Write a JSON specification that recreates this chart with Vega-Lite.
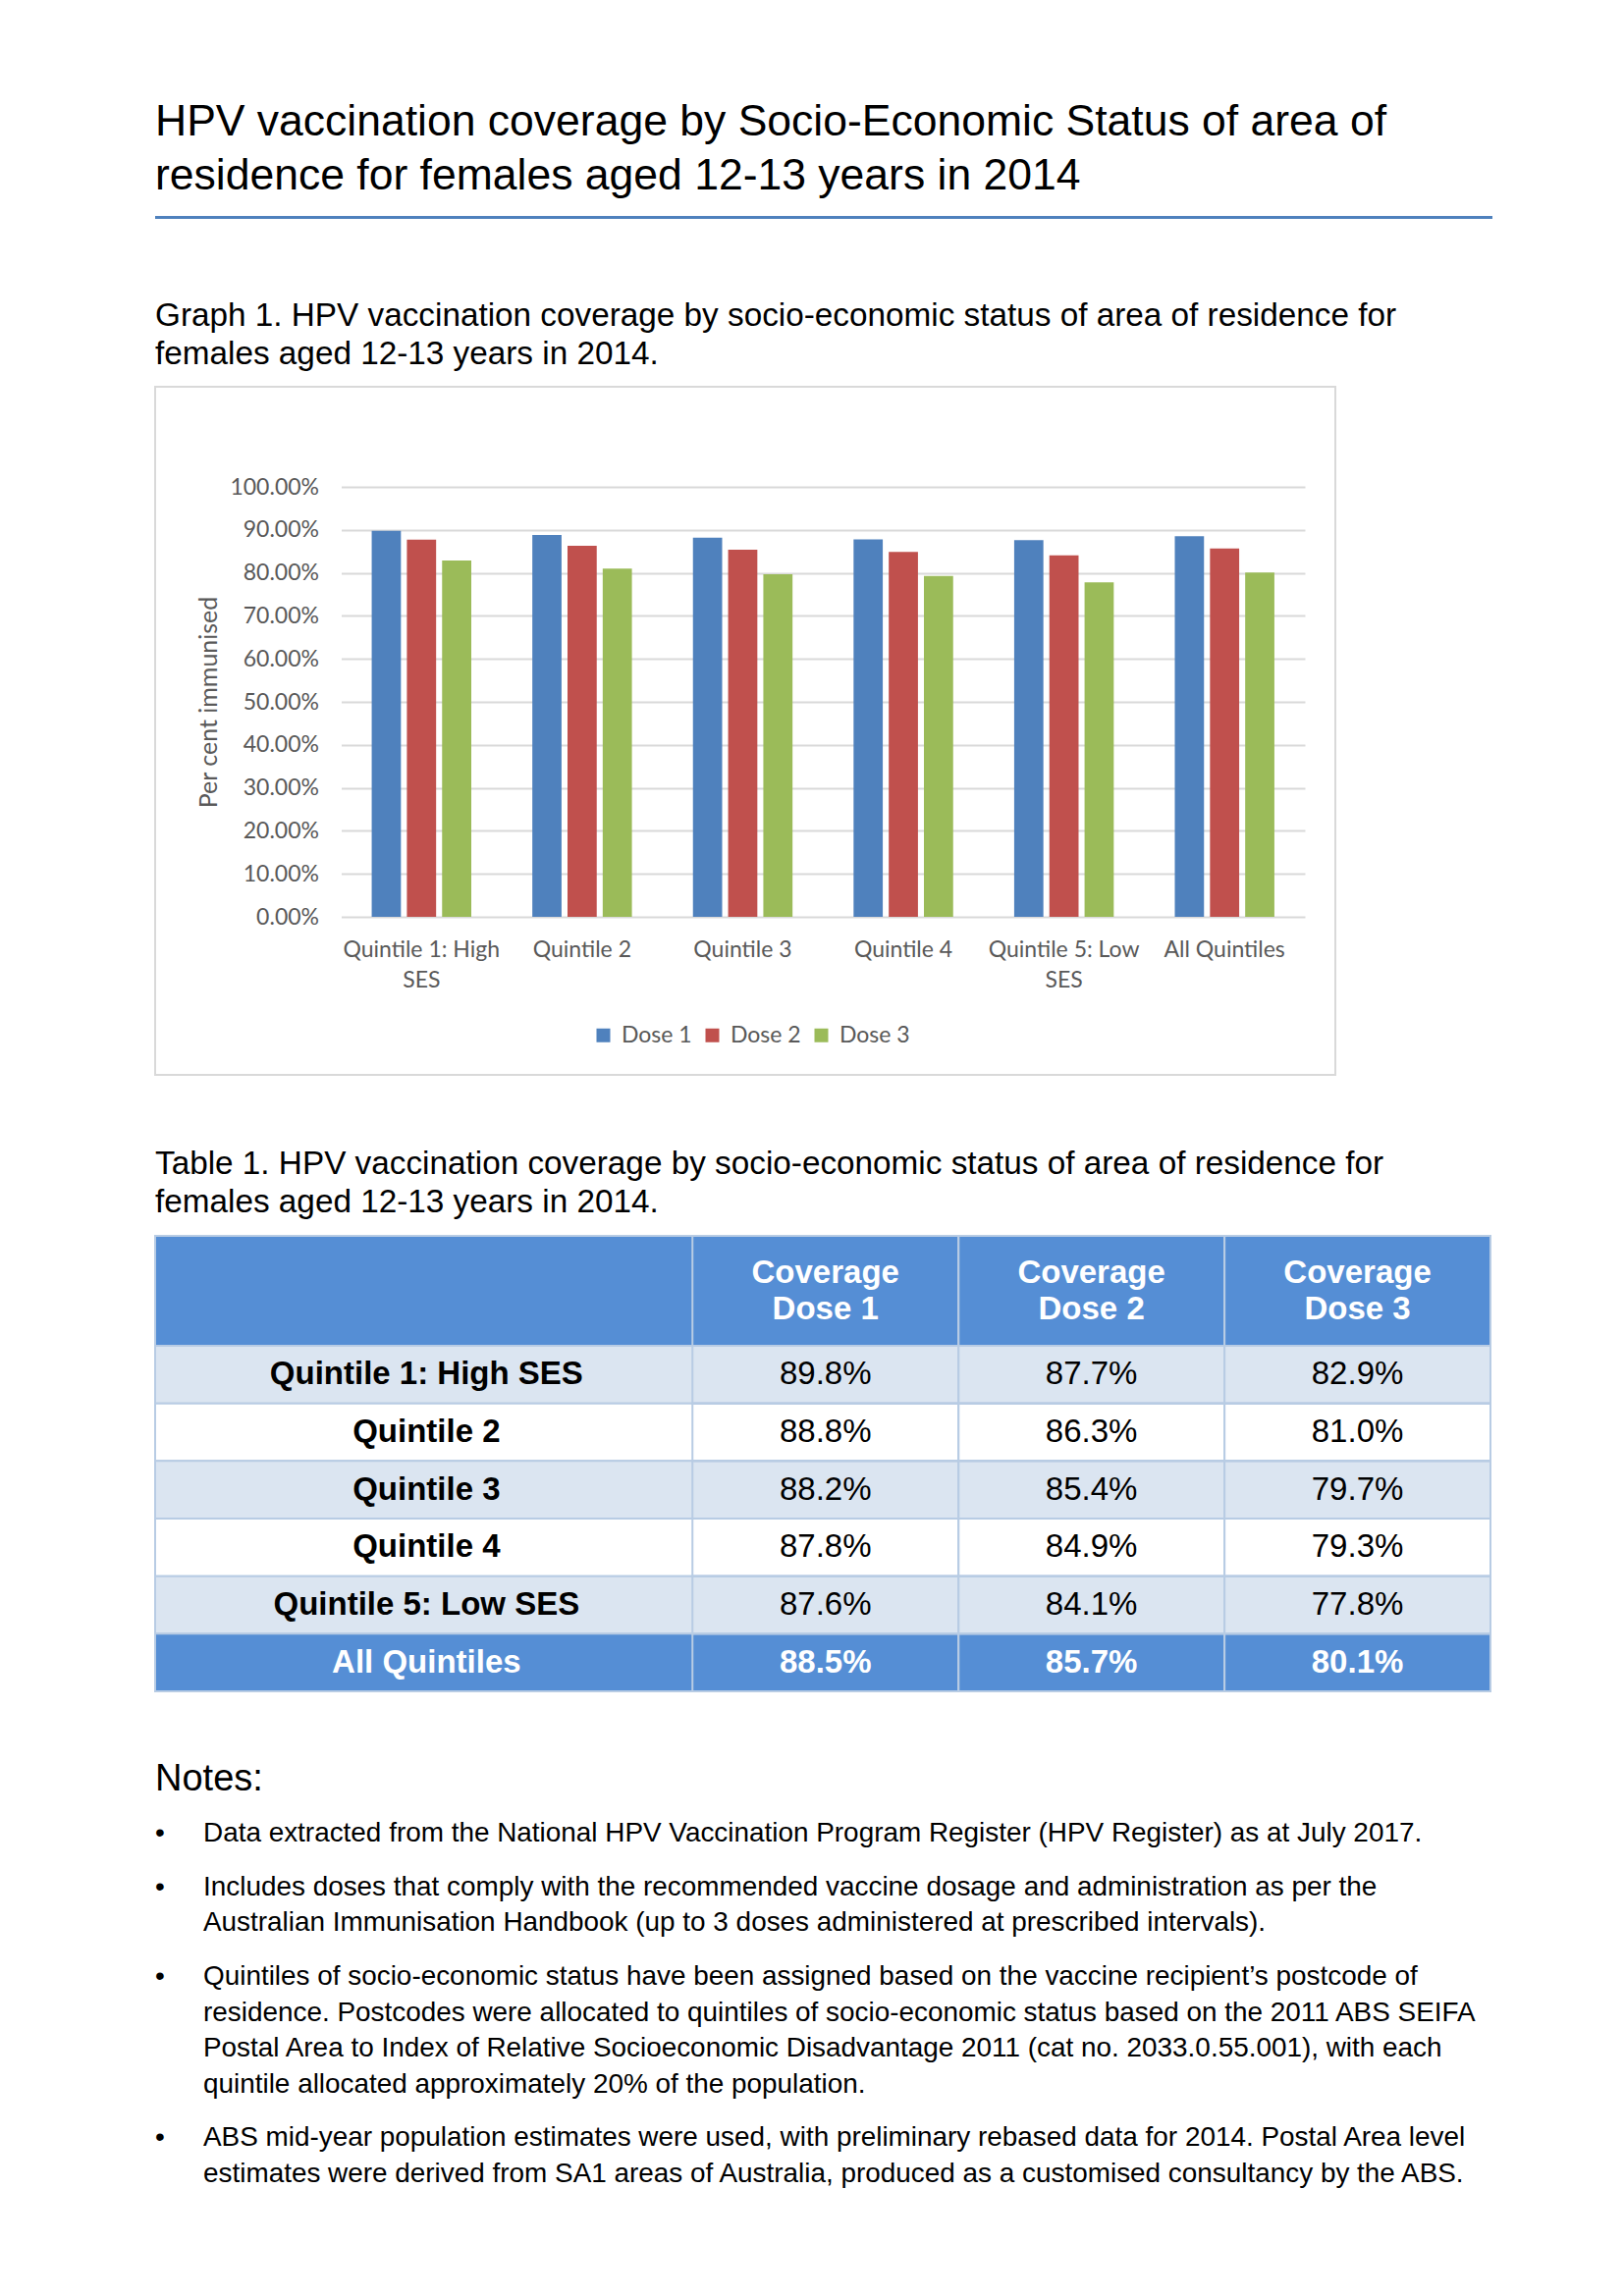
{
  "$schema": "https://vega.github.io/schema/vega-lite/v6.json",
  "background": "white",
  "padding": {"left": 157, "top": 0, "right": 0, "bottom": 0},
  "spacing": 0,
  "bounds": "flush",
  "resolve": {"scale": {"color": "independent", "fill": "independent"}, "legend": {"color": "independent", "fill": "independent"}},
  "config": {
    "font": "Liberation Sans",
    "view": {"stroke": null},
    "title": {"anchor": "start", "frame": "group", "font": "Liberation Sans", "fontWeight": "normal", "color": "#000000", "orient": "top", "baseline": "bottom"}
  },
  "datasets": {
    "coverage": [
      {"quintile": "Quintile 1: High SES", "dose": "Dose 1", "coverage": 0.898},
      {"quintile": "Quintile 1: High SES", "dose": "Dose 2", "coverage": 0.877},
      {"quintile": "Quintile 1: High SES", "dose": "Dose 3", "coverage": 0.829},
      {"quintile": "Quintile 2", "dose": "Dose 1", "coverage": 0.888},
      {"quintile": "Quintile 2", "dose": "Dose 2", "coverage": 0.863},
      {"quintile": "Quintile 2", "dose": "Dose 3", "coverage": 0.810},
      {"quintile": "Quintile 3", "dose": "Dose 1", "coverage": 0.882},
      {"quintile": "Quintile 3", "dose": "Dose 2", "coverage": 0.854},
      {"quintile": "Quintile 3", "dose": "Dose 3", "coverage": 0.797},
      {"quintile": "Quintile 4", "dose": "Dose 1", "coverage": 0.878},
      {"quintile": "Quintile 4", "dose": "Dose 2", "coverage": 0.849},
      {"quintile": "Quintile 4", "dose": "Dose 3", "coverage": 0.793},
      {"quintile": "Quintile 5: Low SES", "dose": "Dose 1", "coverage": 0.876},
      {"quintile": "Quintile 5: Low SES", "dose": "Dose 2", "coverage": 0.841},
      {"quintile": "Quintile 5: Low SES", "dose": "Dose 3", "coverage": 0.778},
      {"quintile": "All Quintiles", "dose": "Dose 1", "coverage": 0.885},
      {"quintile": "All Quintiles", "dose": "Dose 2", "coverage": 0.857},
      {"quintile": "All Quintiles", "dose": "Dose 3", "coverage": 0.801}
    ],
    "headers": [
      {"dose": "Dose 1", "header": ["Coverage", "Dose 1"]},
      {"dose": "Dose 2", "header": ["Coverage", "Dose 2"]},
      {"dose": "Dose 3", "header": ["Coverage", "Dose 3"]}
    ],
    "notes": [
      {"key": "Notes", "text": "Notes:"},
      {"key": "1.1", "text": "Data extracted from the National HPV Vaccination Program Register (HPV Register) as at July 2017."},
      {"key": "2.1", "text": "Includes doses that comply with the recommended vaccine dosage and administration as per the"},
      {"key": "2.2", "text": "Australian Immunisation Handbook (up to 3 doses administered at prescribed intervals)."},
      {"key": "3.1", "text": "Quintiles of socio-economic status have been assigned based on the vaccine recipient’s postcode of"},
      {"key": "3.2", "text": "residence. Postcodes were allocated to quintiles of socio-economic status based on the 2011 ABS SEIFA"},
      {"key": "3.3", "text": "Postal Area to Index of Relative Socioeconomic Disadvantage 2011 (cat no. 2033.0.55.001), with each"},
      {"key": "3.4", "text": "quintile allocated approximately 20% of the population."},
      {"key": "4.1", "text": "ABS mid-year population estimates were used, with preliminary rebased data for 2014. Postal Area level"},
      {"key": "4.2", "text": "estimates were derived from SA1 areas of Australia, produced as a customised consultancy by the ABS."}
    ]
  },
  "vconcat": [
    {"width": 1, "height": 220, "view": {"fill": "white", "stroke": null}, "data": {"values": []}, "mark": "text"},
    {
      "width": 1362, "height": 3,
      "view": {"fill": "#4F81BD", "stroke": null},
      "title": {"text": ["HPV vaccination coverage by Socio-Economic Status of area of", "residence for females aged 12-13 years in 2014"], "fontSize": 44.5, "lineHeight": 55, "offset": 18},
      "data": {"values": []}, "mark": "text"
    },
    {"width": 1, "height": 171, "data": {"values": []}, "mark": "text"},
    {
      "width": 1202, "height": 701,
      "view": {"fill": "white", "stroke": "#D9D9D9", "strokeWidth": 2},
      "title": {"text": ["Graph 1. HPV vaccination coverage by socio-economic status of area of residence for", "females aged 12-13 years in 2014."], "fontSize": 33.3, "lineHeight": 39, "offset": 16},
      "data": {"name": "coverage"},
      "mark": {"type": "bar"},
      "encoding": {
        "x": {
          "field": "quintile", "type": "nominal",
          "sort": ["Quintile 1: High SES", "Quintile 2", "Quintile 3", "Quintile 4", "Quintile 5: Low SES", "All Quintiles"],
          "scale": {"range": [189.5, 1171], "paddingInner": 0.38, "paddingOuter": 0.19},
          "axis": {
            "title": null, "orient": "bottom", "offset": -161, "domain": false, "ticks": false, "grid": false,
            "labelPadding": 22, "labelFont": "Lato", "labelFontSize": 23, "labelColor": "#595959", "labelAngle": 0, "labelLimit": 400, "labelLineHeight": 31,
            "labelExpr": "datum.value === 'Quintile 1: High SES' ? ['Quintile 1: High', 'SES'] : datum.value === 'Quintile 5: Low SES' ? ['Quintile 5: Low', 'SES'] : datum.value"
          }
        },
        "xOffset": {"field": "dose", "type": "nominal", "sort": ["Dose 1", "Dose 2", "Dose 3"], "scale": {"paddingInner": 0.17, "paddingOuter": 0}},
        "y": {
          "field": "coverage", "type": "quantitative",
          "scale": {"domain": [0, 1], "range": [540, 102], "nice": false},
          "axis": {
            "title": "Per cent immunised", "format": ".2%", "values": [0, 0.1, 0.2, 0.3, 0.4, 0.5, 0.6, 0.7, 0.8, 0.9, 1],
            "offset": -189.5, "domain": false, "ticks": false, "labelPadding": 23,
            "labelFont": "Lato", "labelFontSize": 23, "labelColor": "#595959",
            "titleFont": "Lato", "titleFontSize": 25, "titleColor": "#595959", "titleFontWeight": "normal", "titlePadding": 8,
            "grid": true, "gridColor": "#D9D9D9", "gridWidth": 2
          }
        },
        "color": {
          "field": "dose", "type": "nominal",
          "scale": {"domain": ["Dose 1", "Dose 2", "Dose 3"], "range": ["#4F81BD", "#C0504D", "#9BBB59"]},
          "legend": {
            "title": null, "orient": "none", "direction": "horizontal", "legendX": 445, "legendY": 649,
            "symbolType": "square", "symbolSize": 196, "symbolStrokeWidth": 0, "padding": 0,
            "labelFont": "Lato", "labelFontSize": 23, "labelColor": "#595959", "labelOffset": 7, "columnPadding": 9
          }
        }
      }
    },
    {"width": 1, "height": 164, "data": {"values": []}, "mark": "text"},
    {
      "width": 1360, "height": 112,
      "view": {"fill": "#558ED5", "stroke": "#B8CCE4", "strokeWidth": 2},
      "title": {"text": ["Table 1. HPV vaccination coverage by socio-economic status of area of residence for", "females aged 12-13 years in 2014."], "fontSize": 33.3, "lineHeight": 39, "offset": 16},
      "data": {"name": "headers"},
      "encoding": {
        "x": {"field": "dose", "type": "nominal", "scale": {"domain": ["quintile", "Dose 1", "Dose 2", "Dose 3"], "paddingInner": 0, "paddingOuter": 0.51, "align": 1}, "axis": null}
      },
      "layer": [
        {"mark": {"type": "rect", "filled": false, "stroke": "#B8CCE4", "strokeWidth": 2}},
        {"mark": {"type": "text", "fontSize": 33, "fontWeight": "bold", "color": "#FFFFFF", "baseline": "middle", "dy": -18.5, "lineHeight": 37},
         "encoding": {"text": {"field": "header"}}}
      ]
    },
    {
      "width": 1360, "height": 352,
      "data": {"name": "coverage"},
      "encoding": {
        "y": {"field": "quintile", "type": "nominal", "sort": ["Quintile 1: High SES", "Quintile 2", "Quintile 3", "Quintile 4", "Quintile 5: Low SES", "All Quintiles"], "scale": {"paddingInner": 0, "paddingOuter": 0}, "axis": null}
      },
      "layer": [
        {"transform": [{"filter": "datum.dose === 'Dose 1'"}],
         "mark": {"type": "rect", "stroke": "#B8CCE4", "strokeWidth": 2},
         "encoding": {"fill": {"field": "quintile", "type": "nominal", "scale": {"domain": ["Quintile 1: High SES", "Quintile 2", "Quintile 3", "Quintile 4", "Quintile 5: Low SES", "All Quintiles"], "range": ["#DBE5F1", "#FFFFFF", "#DBE5F1", "#FFFFFF", "#DBE5F1", "#558ED5"]}, "legend": null}}},
        {"mark": {"type": "rect", "filled": false, "stroke": "#B8CCE4", "strokeWidth": 2},
         "encoding": {"x": {"field": "dose", "type": "nominal", "scale": {"domain": ["quintile", "Dose 1", "Dose 2", "Dose 3"], "paddingInner": 0, "paddingOuter": 0.51, "align": 1}, "axis": null}}},
        {"transform": [{"filter": "datum.dose === 'Dose 1'"}],
         "mark": {"type": "text", "fontSize": 33, "fontWeight": "bold", "baseline": "middle"},
         "encoding": {
           "x": {"datum": "quintile", "type": "nominal", "bandPosition": 0, "axis": null},
           "text": {"field": "quintile"},
           "color": {"condition": {"test": "datum.quintile === 'All Quintiles'", "value": "#FFFFFF"}, "value": "#000000"}}},
        {"transform": [{"filter": "datum.quintile !== 'All Quintiles'"}],
         "mark": {"type": "text", "fontSize": 33, "baseline": "middle", "color": "#000000"},
         "encoding": {"x": {"field": "dose", "type": "nominal", "axis": null}, "text": {"field": "coverage", "type": "quantitative", "format": ".1%"}}},
        {"transform": [{"filter": "datum.quintile === 'All Quintiles'"}],
         "mark": {"type": "text", "fontSize": 33, "fontWeight": "bold", "baseline": "middle", "color": "#FFFFFF"},
         "encoding": {"x": {"field": "dose", "type": "nominal", "axis": null}, "text": {"field": "coverage", "type": "quantitative", "format": ".1%"}}}
      ]
    },
    {"width": 1, "height": 90, "data": {"values": []}, "mark": "text"},
    {
      "width": 1362, "height": 402,
      "data": {"name": "notes"},
      "encoding": {
        "y": {"field": "key", "type": "ordinal", "scale": {"type": "point", "padding": 0, "domain": ["Notes", "s1", "s2", "1.1", "s3", "s4", "2.1", "s5", "2.2", "s6", "s7", "3.1", "s8", "3.2", "s9", "3.3", "s10", "3.4", "s11", "s12", "4.1", "s13", "4.2"]}, "axis": null}
      },
      "layer": [
        {"transform": [{"filter": "datum.key === 'Notes'"}],
         "mark": {"type": "text", "align": "left", "baseline": "middle", "fontSize": 38, "color": "#000000"},
         "encoding": {"x": {"datum": "bullet", "type": "nominal", "scale": {"type": "point", "domain": ["bullet", "text"], "range": [0, 49], "padding": 0}, "axis": null}, "text": {"field": "text"}}},
        {"transform": [{"filter": "indexof(['1.1', '2.1', '3.1', '4.1'], datum.key) >= 0"}],
         "mark": {"type": "text", "align": "left", "baseline": "middle", "fontSize": 28, "text": "•", "color": "#000000"},
         "encoding": {"x": {"datum": "bullet", "type": "nominal", "axis": null}}},
        {"transform": [{"filter": "datum.key !== 'Notes'"}],
         "mark": {"type": "text", "align": "left", "baseline": "middle", "fontSize": 27.9, "color": "#000000"},
         "encoding": {"x": {"datum": "text", "type": "nominal", "axis": null}, "text": {"field": "text"}}}
      ]
    }
  ]
}
